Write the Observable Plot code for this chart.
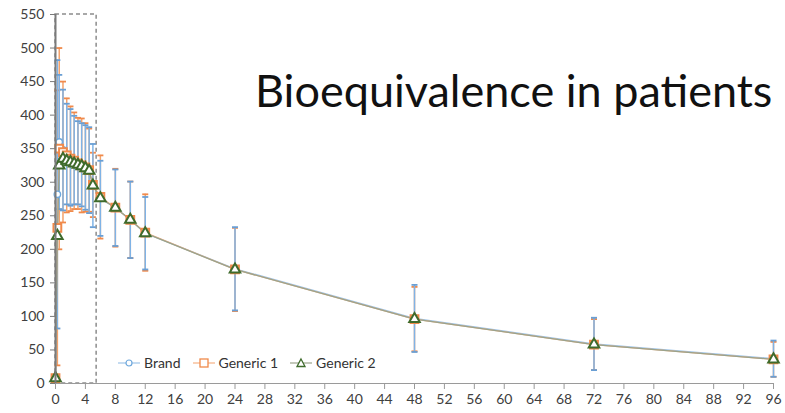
<!DOCTYPE html>
<html>
<head>
<meta charset="utf-8">
<script src="https://cdn.jsdelivr.net/npm/d3@7"></script>
<script src="https://cdn.jsdelivr.net/npm/@observablehq/plot@0.6"></script>
<style>
  body { margin: 0; background: #fff; font-family: Lato, "Open Sans", sans-serif; }
  #wrap { position: relative; width: 785px; height: 413px; }
  #title { position: absolute; left: 255px; top: 63px; font-size: 45px; color: #111; white-space: nowrap; letter-spacing: 0; }
  #legend { position: absolute; left: 118px; top: 354px; font-size: 14px; color: #333; display: flex; align-items: center; }
  #legend .item { display: flex; align-items: center; margin-right: 12px; }
  #legend svg { margin-right: 4px; }
</style>
</head>
<body>
<div id="wrap">
  <div id="chart"></div>
  <div id="title">Bioequivalence in patients</div>
  <div id="legend"></div>
</div>
<script>
// Sampling times (hours)
const times = [0, 0.25, 0.5, 1, 1.5, 2, 2.5, 3, 3.5, 4, 4.5, 5, 6, 8, 10, 12, 24, 48, 72, 96];

// Mean concentrations and standard deviations per formulation
const brandMean = [8, 282, 360, 348, 342, 337, 333, 329, 326, 322, 318, 295, 276, 262, 244, 224, 171, 97, 59, 37];
const brandSD   = [2, 200, 100, 90, 75, 72, 66, 62, 62, 63, 64, 62, 56, 57, 57, 54, 62, 50, 39, 27];
const gen1Mean  = [8, 232, 350, 345, 340, 335, 332, 328, 325, 322, 318, 296, 278, 262, 244, 225, 170, 96, 58, 36];
const gen1SD    = [3, 205, 150, 105, 85, 78, 72, 68, 70, 66, 62, 48, 62, 58, 57, 57, 62, 48, 38, 26];
const gen2Mean  = [8, 220, 325, 335, 332, 330, 328, 326, 324, 321, 317, 295, 276, 262, 244, 224, 170, 96, 58, 36];

const seriesNames = ["Brand", "Generic 1", "Generic 2"];
const xTicks = [0, 4, 8, 12, 16, 20, 24, 28, 32, 36, 40, 44, 48, 52, 56, 60, 64, 68, 72, 76, 80, 84, 88, 92, 96];
const yTicks = [0, 50, 100, 150, 200, 250, 300, 350, 400, 450, 500, 550];
const absorptionWindow = [{start: 0, end: 5.5}];

const colors = {
  "Brand": "#6fa8dc",
  "Generic 1": "#f08a4b",
  "Generic 2": "#3f6b2c"
};
const lineColors = {
  "Brand": "#9cc3e8",
  "Generic 1": "#f5b183",
  "Generic 2": "#9aa38c"
};

const brand = times.map((t, i) => ({t, m: brandMean[i], sd: brandSD[i]}));
const gen1 = times.map((t, i) => ({t, m: gen1Mean[i], sd: gen1SD[i]}));
const gen2 = times.map((t, i) => ({t, m: gen2Mean[i]}));

// short horizontal stroke used for error-bar caps
const capSymbol = {
  draw(ctx, size) {
    const w = Math.sqrt(size);
    ctx.moveTo(-w / 2, 0);
    ctx.lineTo(w / 2, 0);
  }
};

function errorBars(data, color, capColor) {
  const ends = data.flatMap(d => [{t: d.t, v: d.m - d.sd}, {t: d.t, v: d.m + d.sd}]);
  return [
    Plot.ruleX(data, {x: "t", y1: d => d.m - d.sd, y2: d => d.m + d.sd, stroke: color, strokeWidth: 1.5}),
    Plot.dot(ends, {x: "t", y: "v", symbol: capSymbol, r: 3.4, stroke: capColor, strokeWidth: 1.8, fill: "none"})
  ];
}

const chart = Plot.plot({
  width: 785,
  height: 413,
  marginLeft: 55,
  marginRight: 12,
  marginTop: 14,
  marginBottom: 30,
  style: {fontFamily: "Lato, sans-serif", fontSize: "14px", color: "#404040", background: "#fff"},
  x: {domain: [0, 96], ticks: xTicks, label: null},
  y: {domain: [0, 550], ticks: yTicks, label: null},
  marks: [
    Plot.rect(absorptionWindow, {x1: "start", x2: "end", y1: 0, y2: 550, fill: "none", stroke: "#8c8c8c", strokeWidth: 1.5, strokeDasharray: "4,3"}),
    ...errorBars(gen1, "#f4a26b", "#f08a4b"),
    ...errorBars(brand, "#7fb3e6", "#6a9fd4"),
    Plot.line(brand, {x: "t", y: "m", stroke: lineColors["Brand"], strokeWidth: 1.3}),
    Plot.line(gen1, {x: "t", y: "m", stroke: lineColors["Generic 1"], strokeWidth: 1.3}),
    Plot.line(gen2, {x: "t", y: "m", stroke: lineColors["Generic 2"], strokeWidth: 1.3}),
    Plot.dot(brand, {x: "t", y: "m", symbol: "circle", r: 3.2, stroke: colors["Brand"], strokeWidth: 1.4, fill: "#fff"}),
    Plot.dot(gen1, {x: "t", y: "m", symbol: "square", r: 4.4, stroke: colors["Generic 1"], strokeWidth: 2, fill: "#fff"}),
    Plot.dot(gen2, {x: "t", y: "m", symbol: "triangle", r: 3.9, stroke: colors["Generic 2"], strokeWidth: 2, fill: "#fff"}),
    Plot.ruleY([0], {stroke: "#9a9a9a", strokeWidth: 1.2}),
    Plot.ruleX([0], {stroke: "#7a7a7a", strokeWidth: 2}),
    Plot.axisX({ticks: xTicks, tickSize: 6, tickPadding: 5, stroke: "#9a9a9a"}),
    Plot.axisY({ticks: yTicks, tickSize: 5, tickPadding: 6, stroke: "#7a7a7a"})
  ]
});
document.getElementById("chart").appendChild(chart);

// Legend
const legendSymbols = {
  "Brand": `<circle cx="11" cy="6" r="3" fill="#fff" stroke="${colors["Brand"]}" stroke-width="1.2"/>`,
  "Generic 1": `<rect x="7" y="2" width="8" height="8" fill="#fff" stroke="${colors["Generic 1"]}" stroke-width="1.3"/>`,
  "Generic 2": `<path d="M11,2 L15,9.5 L7,9.5 Z" fill="#fff" stroke="${colors["Generic 2"]}" stroke-width="1.3"/>`
};
const legend = document.getElementById("legend");
for (const name of seriesNames) {
  const item = document.createElement("div");
  item.className = "item";
  item.innerHTML = `<svg width="22" height="12"><line x1="0" x2="22" y1="6" y2="6" stroke="${lineColors[name]}" stroke-width="1.2"/>${legendSymbols[name]}</svg><span>${name}</span>`;
  legend.appendChild(item);
}
</script>
</body>
</html>
